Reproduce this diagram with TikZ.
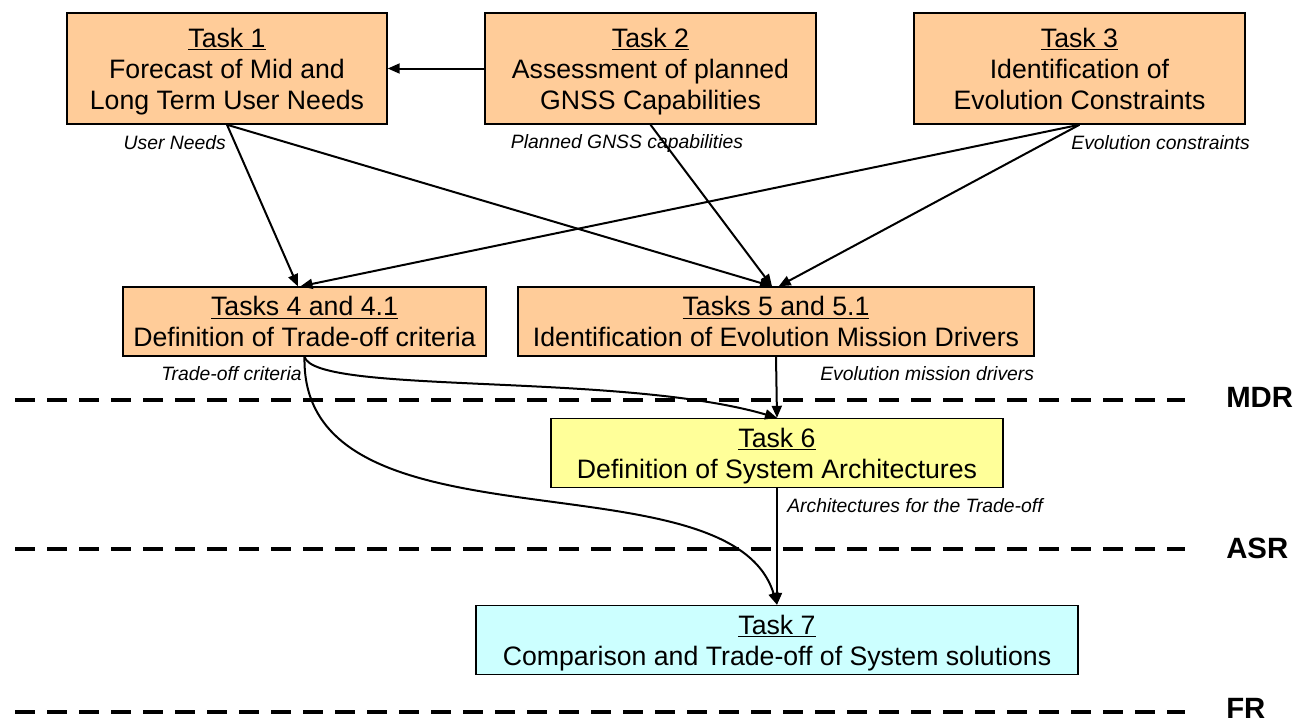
\documentclass[tikz,border=0pt]{standalone}
\usepackage{fontspec}
\setmainfont{Liberation Sans}
\usetikzlibrary{arrows.meta}
\definecolor{peach}{HTML}{FFCC99}
\definecolor{lyellow}{HTML}{FFFF99}
\definecolor{lcyan}{HTML}{CCFFFF}
\newcommand{\topstrut}{\rule{0pt}{21.5pt}}
\newcommand{\botstrut}{\rule[-6.9pt]{0pt}{6.9pt}}
\begin{document}
\begin{tikzpicture}[x=0.75pt,y=-0.75pt,
  box/.style={draw=black, line width=1.1pt, align=center, inner sep=0pt,
    font=\fontsize{20}{23.3}\selectfont},
  lbl/.style={font=\fontsize{14.5}{16}\selectfont\itshape, inner sep=0pt},
  rev/.style={font=\fontsize{22}{24}\selectfont\bfseries, inner sep=0pt, anchor=west},
  conn/.style={line width=1.5pt, -{Triangle[length=9pt,width=7.5pt]}},
  milestone/.style={line width=3pt, dash pattern=on 15pt off 9pt}]
\useasboundingbox (0,0) rectangle (1296,722);
% boxes
\node[box, fill=peach, minimum width=240pt, minimum height=83.25pt] (t1) at (227,68.5)
  {\topstrut\underline{Task 1}\\Forecast of Mid and\\Long Term User Needs\botstrut};
\node[box, fill=peach, minimum width=248.25pt, minimum height=83.25pt] (t2) at (650.5,68.5)
  {\topstrut\underline{Task 2}\\Assessment of planned\\GNSS Capabilities\botstrut};
\node[box, fill=peach, minimum width=248.25pt, minimum height=83.25pt] (t3) at (1079.5,68.5)
  {\topstrut\underline{Task 3}\\Identification of\\Evolution Constraints\botstrut};
\node[box, fill=peach, minimum width=272.25pt, minimum height=50.25pt] (t4) at (304.5,321.5)
  {\topstrut\underline{Tasks 4 and 4.1}\\Definition of Trade-off criteria\botstrut};
\node[box, fill=peach, minimum width=387pt, minimum height=50.25pt] (t5) at (776,321.5)
  {\topstrut\underline{Tasks 5 and 5.1}\\Identification of Evolution Mission Drivers\botstrut};
\node[box, fill=lyellow, minimum width=339pt, minimum height=48pt] (t6) at (777,453)
  {\topstrut\underline{Task 6}\\Definition of System Architectures\botstrut};
\node[box, fill=lcyan, minimum width=451.5pt, minimum height=49.5pt] (t7) at (777,640)
  {\topstrut\underline{Task 7}\\Comparison and Trade-off of System solutions\botstrut};
% milestone lines
\coordinate (mdrA) at (15,400); \coordinate (mdrB) at (1185,400);
\coordinate (asrA) at (15,549); \coordinate (asrB) at (1185,549);
\coordinate (frA) at (15,712); \coordinate (frB) at (1185,712);
\draw[milestone] (mdrA) -- (mdrB);
\draw[milestone] (asrA) -- (asrB);
\draw[milestone] (frA) -- (frB);
\node[rev] (mdr) at (1226,397) {MDR};
\node[rev] (asr) at (1226,548) {ASR};
\node[rev] (fr) at (1226,708) {FR};
% connectors
\draw[conn] (t2.west) -- (t1.east);
\draw[conn] (t1.south) -- ([xshift=-5pt]t4.north);
\draw[conn] (t1.south) -- ([xshift=-3pt]t5.north);
\draw[conn] (t2.south) -- ([xshift=-3pt]t5.north);
\draw[conn] (t3.south) -- ([xshift=-3pt]t4.north);
\draw[conn] (t3.south) -- ([xshift=2pt]t5.north);
\draw[conn] (t5.south) -- (t6.north);
\draw[conn] (t6.south) -- (t7.north);
\draw[conn] (t4.south) .. controls (315,395) and (620,372) .. (t6.north);
\draw[conn] (t4.south) .. controls (300,560) and (730,450) .. (t7.north);
% labels
\node[lbl, anchor=east] (lun) at (226,143) {User Needs};
\node[lbl] (lgn) at (627,143) {Planned GNSS capabilities};
\node[lbl, anchor=east] (lec) at (1250,143) {Evolution constraints};
\node[lbl, anchor=east] (ltc) at (302,374) {Trade-off criteria};
\node[lbl, anchor=west] (lem) at (820,374) {Evolution mission drivers};
\node[lbl, anchor=west] (lat) at (787,506) {Architectures for the Trade-off};
\end{tikzpicture}
\end{document}
